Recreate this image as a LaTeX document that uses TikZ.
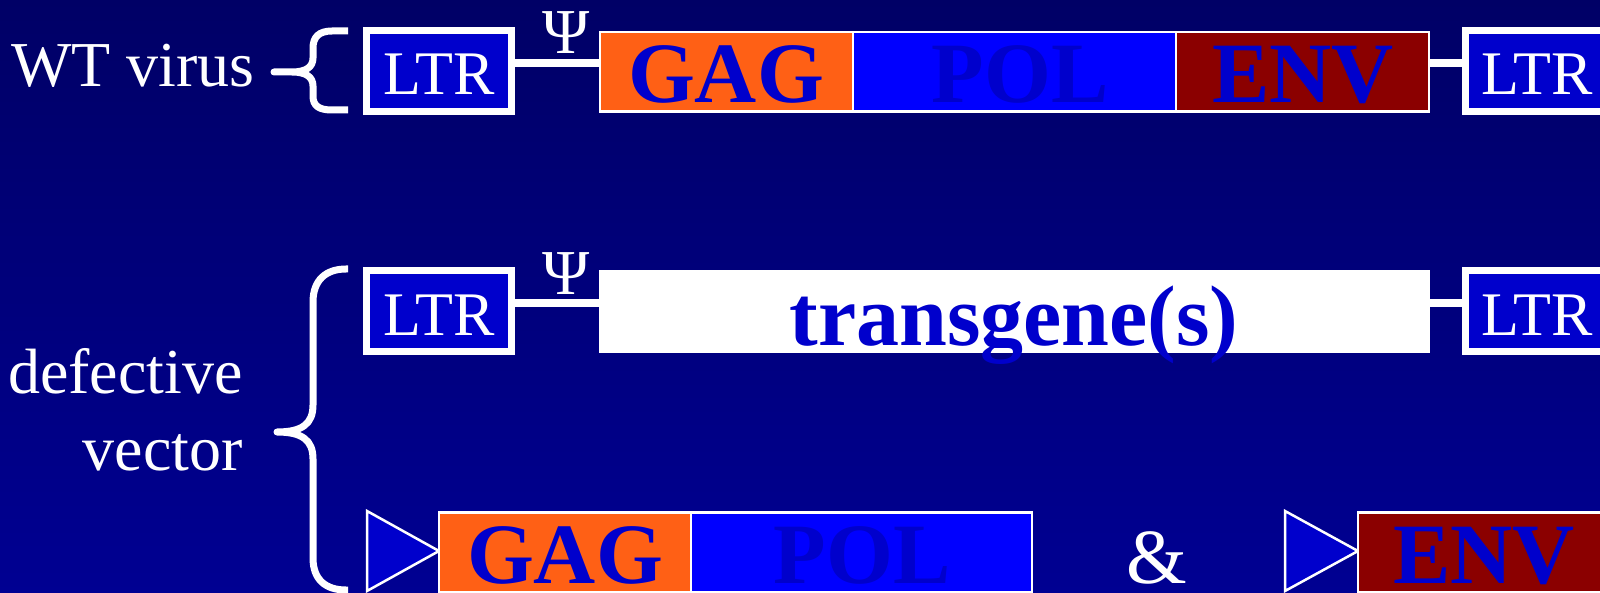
\documentclass[tikz,border=0pt]{standalone}
\usepackage{fontspec}
\setmainfont{Liberation Serif}
\definecolor{bgtop}{HTML}{000066}
\definecolor{bgbot}{HTML}{000092}
\definecolor{ltrblue}{HTML}{0000CC}
\definecolor{gagorange}{HTML}{FF6015}
\definecolor{polblue}{HTML}{0000FF}
\definecolor{envred}{HTML}{8B0000}
\definecolor{textblue}{HTML}{0000CC}
\tikzset{
  ltrbox/.style={draw=white, line width=3.5pt, fill=ltrblue, minimum width=72.5pt, minimum height=40.5pt, inner sep=0pt},
  genebox/.style={draw=white, line width=1.25pt, inner sep=0pt, minimum height=39.75pt},
  ltrtext/.style={anchor=base, inner sep=0pt, text=white, font=\fontsize{31pt}{36pt}\selectfont},
  genetext/.style={anchor=base, inner sep=0pt, text=textblue, font=\fontsize{43pt}{50pt}\selectfont\bfseries},
  labeltext/.style={anchor=base east, inner sep=0pt, text=white, font=\fontsize{32pt}{38pt}\selectfont},
  psitext/.style={anchor=base, inner sep=0pt, text=white, font=\fontsize{32pt}{38pt}\selectfont},
  conn/.style={draw=white, line width=4pt},
  bracestyle/.style={draw=white, line width=3.5pt, line join=round},
  promoter/.style={draw=white, line width=1.25pt, fill=ltrblue, line join=miter}
}
\begin{document}
\begin{tikzpicture}[x=0.5pt, y=-0.5pt]
\useasboundingbox (0,0) rectangle (1600,593);
\shade[top color=bgtop, bottom color=bgbot] (0,0) rectangle (1600,593);

% ---------- WT virus row ----------
\node[labeltext] (wt) at (255,87) {WT virus};
\draw[bracestyle] (348,31) -- (332,31) .. controls (319,31) and (313,37) .. (313,48) -- (313,58)
   .. controls (313,67) and (306,72) .. (292,72) -- (274,72) -- (292,72)
   .. controls (306,72) and (313,77) .. (313,86) -- (313,96)
   .. controls (313,106) and (319,110) .. (332,110) -- (348,110);

\node[ltrbox] (ltr1) at (439,71) {};
\node[ltrtext] (ltr1t) at (439,95) {LTR};
\node[genebox, fill=gagorange, minimum width=126.4pt] (gag1) at (726.6,72) {};
\node[genebox, fill=polblue, minimum width=161.5pt] (pol1) at (1014.5,72) {};
\node[genebox, fill=envred, minimum width=126.4pt] (env1) at (1302.4,72) {};
\node[genetext] (gag1t) at (726,103) {GAG};
\node[genetext] (pol1t) at (1020,103) {POL};
\node[genetext] (env1t) at (1303,103) {ENV};
\node[ltrbox] (ltr1r) at (1538,71) {};
\node[ltrtext] (ltr1rt) at (1537,95) {LTR};
\node[psitext] (psi1) at (566,54) {Ψ};
\draw[conn] ([yshift=4pt]ltr1.east) -- ([yshift=4.5pt]gag1.west);
\draw[conn] ([yshift=4.5pt]env1.east) -- ([yshift=4pt]ltr1r.west);

% ---------- defective vector ----------
\node[labeltext] (def) at (243,393) {defective};
\node[labeltext] (vec) at (243,470) {vector};
\draw[bracestyle] (348,269) -- (346,269) .. controls (326,269) and (313,280) .. (313,302) -- (313,405)
   .. controls (313,424) and (302,432) .. (277,432)
   .. controls (302,432) and (313,440) .. (313,459) -- (313,558)
   .. controls (313,580) and (326,590) .. (346,590) -- (348,590);

\node[ltrbox] (ltr2) at (439,311) {};
\node[ltrtext] (ltr2t) at (439,335) {LTR};
\node[genebox, fill=white, minimum width=414.25pt, minimum height=40.25pt] (tg) at (1014.5,311.5) {};
\node[genetext] (tgt) at (1014,345) {transgene(s)};
\node[ltrbox] (ltr2r) at (1538,311) {};
\node[ltrtext] (ltr2rt) at (1537,335) {LTR};
\node[psitext] (psi2) at (566,294) {Ψ};
\draw[conn] ([yshift=4pt]ltr2.east) -- ([yshift=4.25pt]tg.west);
\draw[conn] ([yshift=4.25pt]tg.east) -- ([yshift=4pt]ltr2r.west);

% ---------- packaging constructs ----------
\draw[promoter] (367,511) -- (439,551) -- (367,591) -- cycle;
\node[genebox, fill=gagorange, minimum width=125.9pt] (gag2) at (565.1,552) {};
\node[genebox, fill=polblue, minimum width=170.4pt] (pol2) at (861.4,552) {};
\node[genetext] (gag2t) at (565,583) {GAG};
\node[genetext] (pol2t) at (862,583) {POL};
\node[anchor=base, inner sep=0pt, text=white, font=\fontsize{39pt}{45pt}\selectfont] (amp) at (1157,583) {\&};
\draw[promoter] (1285,511) -- (1358,551) -- (1285,591) -- cycle;
\node[genebox, fill=envred, minimum width=126.4pt] (env2) at (1484.6,552) {};
\node[genetext] (env2t) at (1484,583) {ENV};
\end{tikzpicture}
\end{document}
